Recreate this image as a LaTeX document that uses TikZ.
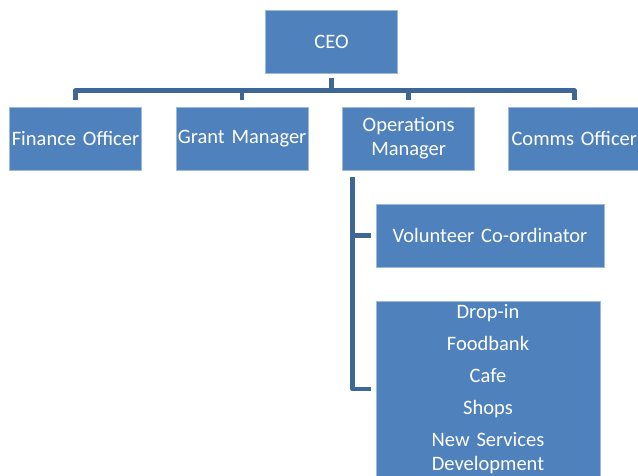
\documentclass[tikz,border=0pt]{standalone}
\usepackage{fontspec}
\setmainfont{Carlito}
\usetikzlibrary{positioning}
\definecolor{roleblue}{RGB}{79, 129, 189}
\definecolor{linkblue}{RGB}{62, 102, 150}

\begin{document}
\begin{tikzpicture}[
        x=1pt, y=1pt,
        node distance=34pt,
        role/.style={rectangle, draw=roleblue!55!white, line width=0.6pt, fill=roleblue,
            text=white, minimum width=132pt, minimum height=63pt, text width=132pt,
            align=center, inner xsep=0pt, inner ysep=1pt, font=\fontsize{20.5}{24}\selectfont},
        link/.style={line width=4.5pt, linkblue, line join=round}
    ]
        \useasboundingbox (0,0) rectangle (638,475);
        \clip (0,0) rectangle (638,475);

        \node[role] (ceo) at (331.5,433.5) {CEO};
        \node[role] (fin) at (75.5,336.5) {Finance Officer};
        \node[role, right=of fin] (grant) {Grant Manager};
        \node[role, right=of grant] (ops) {Operations\\Manager};
        \node[role, right=33pt of ops] (comms) {Comms Officer};

        \node[role, minimum width=228pt, text width=228pt] (vol) at (490,239.5) {Volunteer Co-ordinator};
        \node[role, minimum width=224pt, text width=224pt, minimum height=176pt, inner ysep=0pt] (svc) at (488,86)
            {Drop-in\\[8pt]Foodbank\\[8pt]Cafe\\[8pt]Shops\\[8pt]New Services\\Development};

        % CEO down to the four roles
        \foreach \r in {fin, grant, ops, comms}
            \draw[link, shorten <=5pt, shorten >=7pt] (ceo.south) -- ++(0,-17) -| (\r.north);

        % operations side branch
        \coordinate (spine) at ([xshift=10pt, yshift=-7pt]ops.south west);
        \draw[link, shorten >=5pt] (spine) |- (vol.west);
        \draw[link, shorten >=5pt] (spine) |- (svc.west);
\end{tikzpicture}
\end{document}
